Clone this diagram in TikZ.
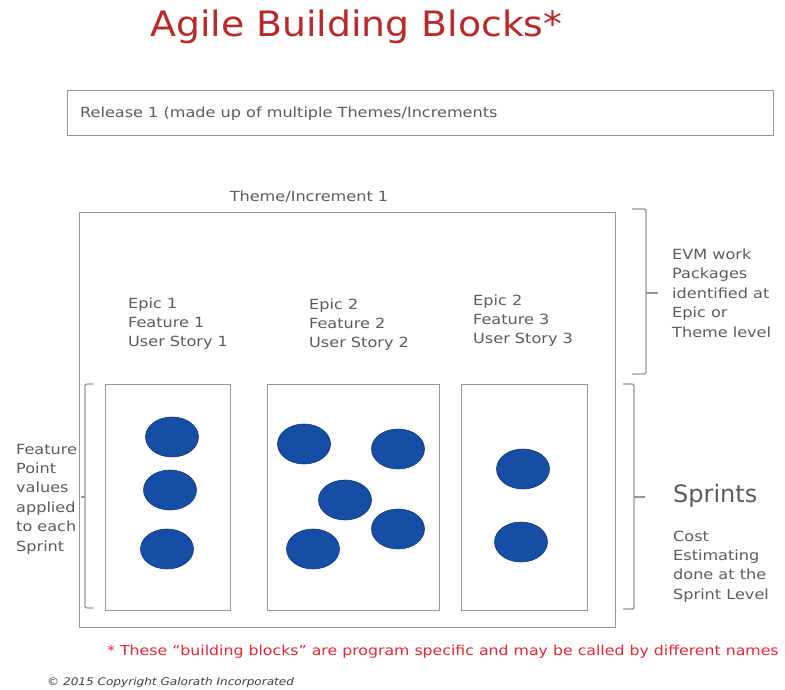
\documentclass[tikz,border=0pt]{standalone}
\usepackage{fontspec}
\setmainfont[FakeStretch=1.15]{DejaVu Sans}
\newfontfamily\titlefont[FakeStretch=1.08]{DejaVu Sans}
\newfontfamily\plainfont{DejaVu Sans}
\usetikzlibrary{shapes.geometric}
\definecolor{titlered}{RGB}{188,40,40}
\definecolor{noteRed}{RGB}{236,36,48}
\definecolor{txtgray}{RGB}{92,92,92}
\definecolor{linegray}{RGB}{150,150,150}
\definecolor{blobblue}{RGB}{22,78,165}
\definecolor{blobedge}{RGB}{18,55,120}
\begin{document}
\begin{tikzpicture}[x=1pt,y=-1pt,
  box/.style={draw=linegray,line width=1.4pt,inner sep=0pt,anchor=north west},
  brk/.style={draw=linegray,line width=1.3pt,rounded corners=2pt},
  blob/.style={ellipse,fill=blobblue,draw=blobedge,line width=0.6pt,minimum width=53pt,minimum height=40pt,inner sep=0pt},
  lbl/.style={text=txtgray,inner sep=0pt,font=\fontsize{14}{19.4}\selectfont,align=left,anchor=base west}]
\useasboundingbox (0,0) rectangle (785,690);
\fill[white] (0,0) rectangle (785,690);
% title
\node[text=titlered,inner sep=0pt,anchor=base west,font=\titlefont\fontsize{35}{40}\selectfont] (title) at (150,37) {Agile Building Blocks*};
% release box
\node[box,minimum width=706pt,minimum height=45pt] (release) at (67,90) {};
\node[lbl] (reltxt) at (80,118) {Release 1 (made up of multiple Themes/Increments};
% theme box
\node[lbl,anchor=base] (themetxt) at (309,201) {Theme/Increment 1};
\node[box,minimum width=536pt,minimum height=415pt] (theme) at (79,212) {};
% epic texts (anchored at the baseline of the last line)
\node[lbl,font=\fontsize{14}{18.8}\selectfont] (ep1) at (128,346.5) {Epic 1\\Feature 1\\User Story 1};
\node[lbl,font=\fontsize{14}{18.8}\selectfont] (ep2) at (309,347.5) {Epic 2\\Feature 2\\User Story 2};
\node[lbl,font=\fontsize{14}{18.8}\selectfont] (ep3) at (473,343) {Epic 2\\Feature 3\\User Story 3};
% sprint boxes
\node[box,minimum width=125pt,minimum height=226pt] (s1) at (105,384) {};
\node[box,minimum width=172pt,minimum height=226pt] (s2) at (267,384) {};
\node[box,minimum width=126pt,minimum height=226pt] (s3) at (461,384) {};
% blobs
\node[blob] (b1) at (172,437) {};
\node[blob] (b2) at (170,490) {};
\node[blob] (b3) at (167,549) {};
\node[blob] (b4) at (304,444) {};
\node[blob] (b5) at (398,449) {};
\node[blob] (b6) at (345,500) {};
\node[blob] (b7) at (398,529) {};
\node[blob] (b8) at (313,549) {};
\node[blob] (b9) at (523,469) {};
\node[blob] (b10) at (521,542) {};
% brackets
\coordinate (tb1) at (632,209);
\coordinate (tb2) at (632,374);
\draw[brk] (tb1) -- (646,209) -- (646,374) -- (tb2);
\draw[brk] (646,293) -- (658,293);
\coordinate (sb1) at (623,384);
\coordinate (sb2) at (623,609);
\draw[brk] (sb1) -- (634,384) -- (634,609) -- (sb2);
\draw[brk] (634,497) -- (645,497);
\coordinate (lb1) at (93,384);
\coordinate (lb2) at (93,608);
\draw[brk] (lb1) -- (85,384) -- (85,608) -- (lb2);
\draw[brk] (85,497) -- (81,497);
% side texts (anchored at the baseline of the last line)
\node[lbl,font=\fontsize{14}{19.5}\selectfont] (evm) at (672,337) {EVM work\\Packages\\identified at\\Epic or\\Theme level};
\node[lbl,font=\plainfont\fontsize{24}{28}\selectfont] (sprints) at (673,502) {Sprints};
\node[lbl,font=\fontsize{14}{19.3}\selectfont] (cost) at (673,599) {Cost\\Estimating\\done at the\\Sprint Level};
\node[lbl] (fp) at (16,551) {Feature\\Point\\values\\applied\\to each\\Sprint};
% footnotes
\node[inner sep=0pt,anchor=base west,text=noteRed,font=\fontsize{13.7}{16}\selectfont] (note) at (107,655) {* These “building blocks” are program specific and may be called by different names};
\node[inner sep=0pt,anchor=base west,text=black!75,font=\fontsize{10.5}{12}\selectfont\itshape] (copy) at (47,685) {© 2015 Copyright Galorath Incorporated};
\end{tikzpicture}
\end{document}
